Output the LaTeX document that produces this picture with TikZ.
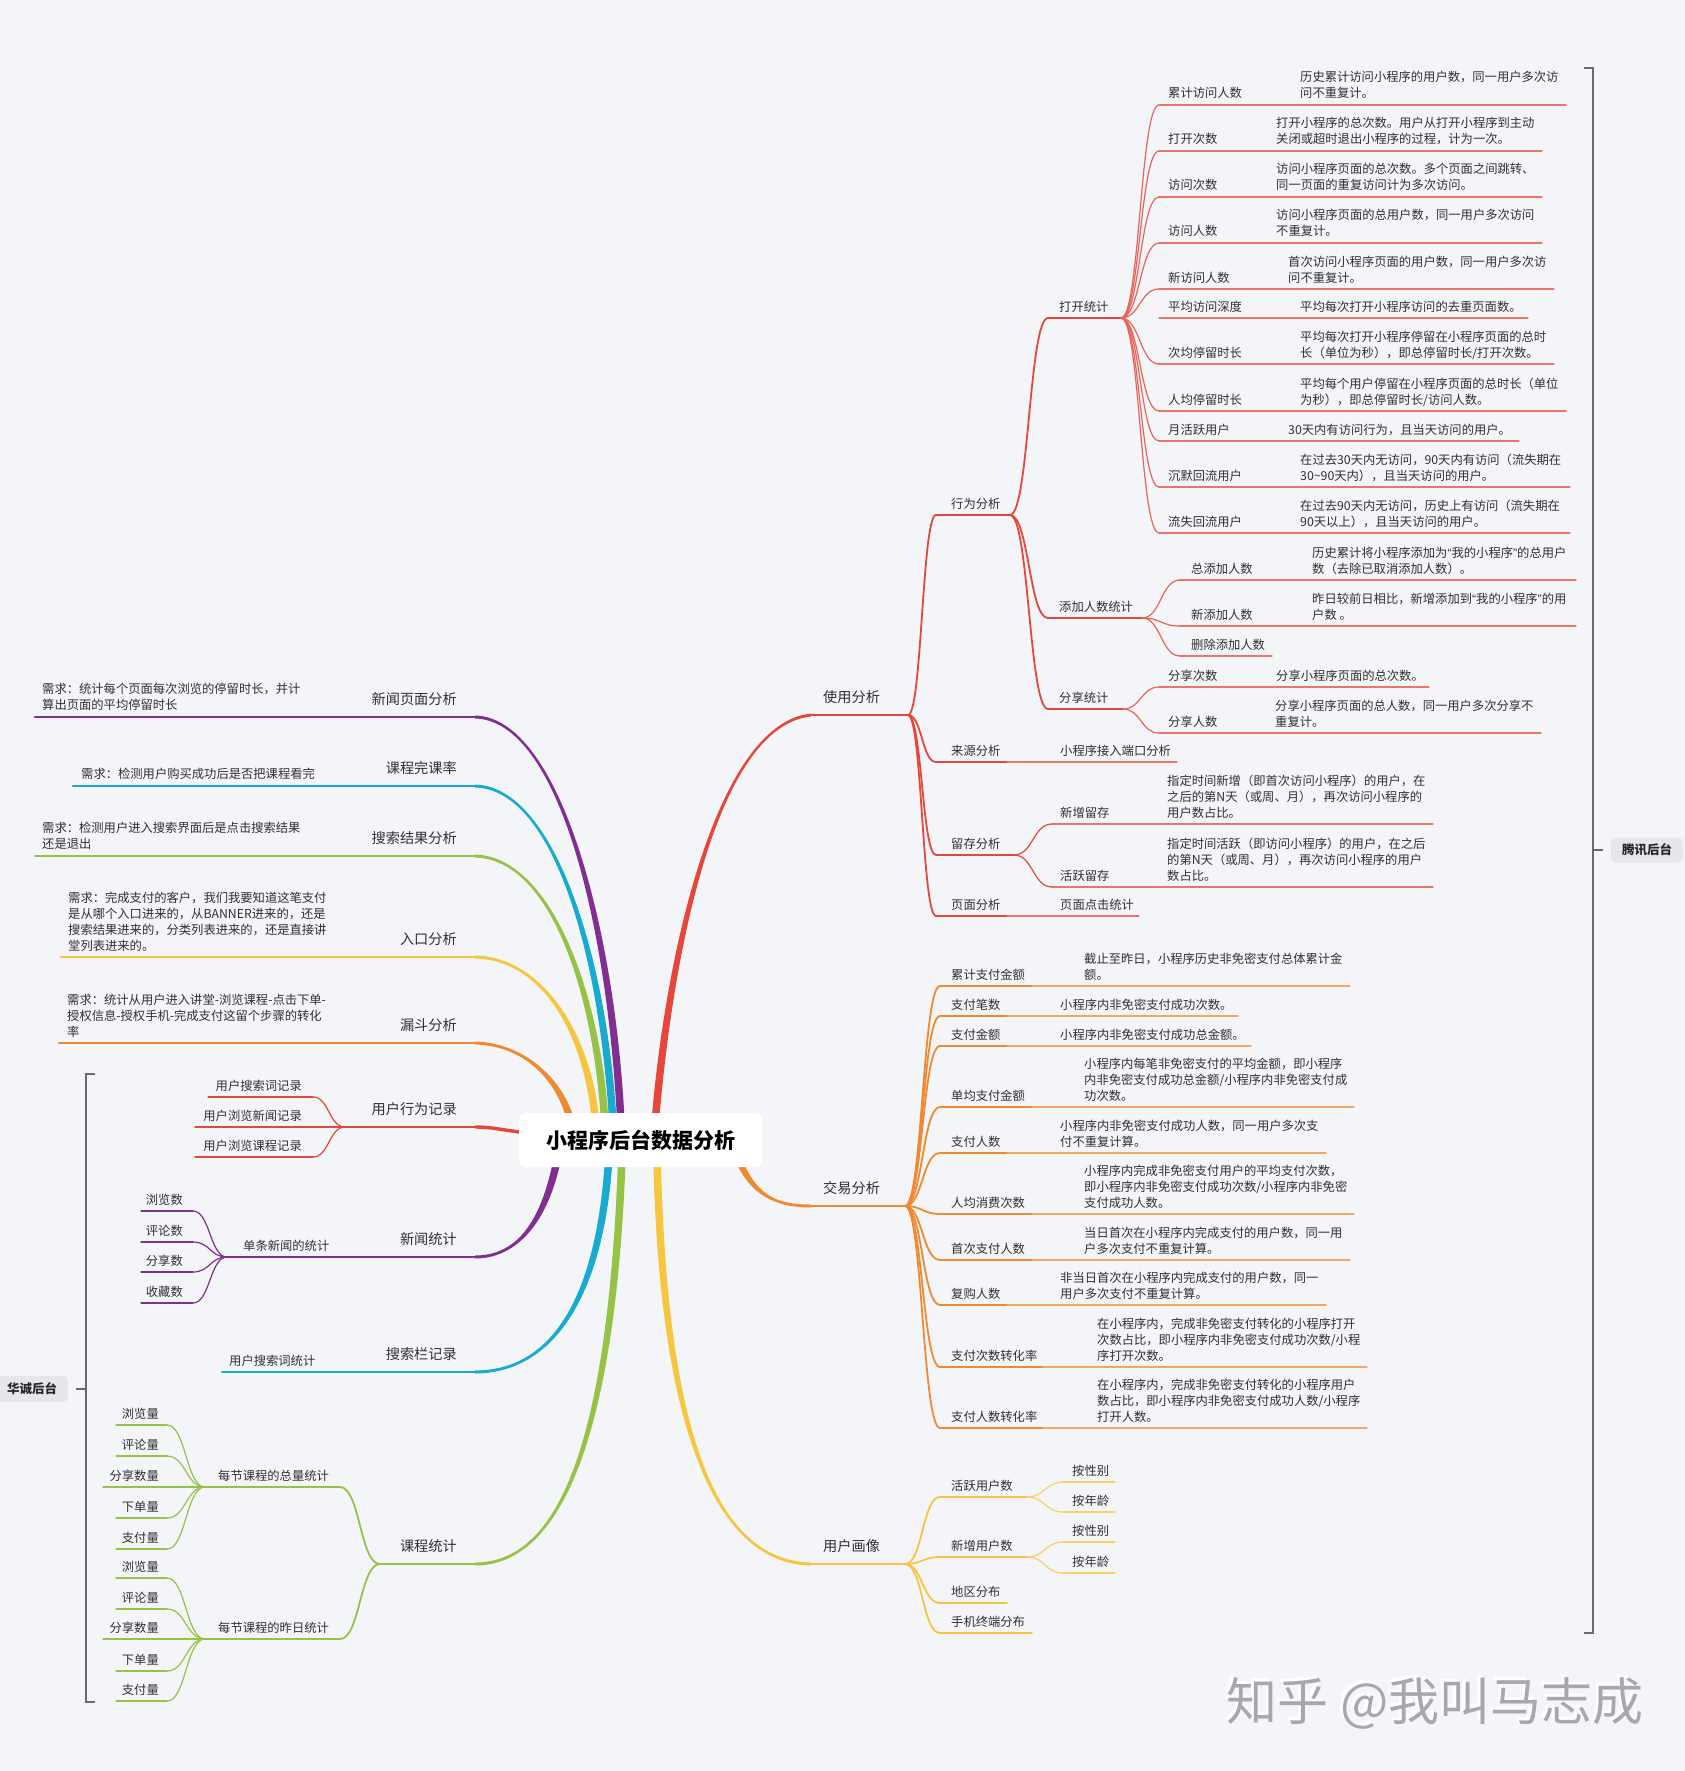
\documentclass[tikz,border=0pt]{standalone}
\usepackage{fontspec}
\setmainfont{Noto Sans CJK SC}
\newfontfamily\latq{Liberation Sans}
\usetikzlibrary{calc}
\definecolor{bg}{RGB}{244,245,249}
\definecolor{cR}{RGB}{231,70,58}
\definecolor{cO}{RGB}{240,138,48}
\definecolor{cY}{RGB}{246,198,64}
\definecolor{cG}{RGB}{150,194,72}
\definecolor{cC}{RGB}{24,170,208}
\definecolor{cP}{RGB}{128,46,146}
\definecolor{txt}{RGB}{48,48,52}
\definecolor{brk}{RGB}{105,105,110}
\definecolor{tagbg}{RGB}{230,231,235}
\definecolor{wmc}{RGB}{168,168,172}
\newcommand\tl[1]{\begin{tabular}[b]{@{}l@{}}#1\end{tabular}}
\newcommand\myoq{{\latq “}}
\newcommand\mycq{{\latq ”}}
\tikzset{
 lbl/.style={font=\fontsize{12.3}{16}\selectfont, text=txt, inner sep=0pt, anchor=base west},
 lblr/.style={lbl, anchor=base east},
 big/.style={font=\fontsize{14.2}{18}\selectfont, text=txt, inner sep=0pt, anchor=base west},
 bigr/.style={big, anchor=base east},
 l1/.style={line width=2.8pt, line cap=round},
 lL/.style={line width=2.2pt, line cap=round},
 l2/.style={line width=1.8pt, line cap=round},
 l3/.style={line width=1.2pt, line cap=round},
 tag/.style={fill=tagbg, rounded corners=5pt, font=\fontsize{12.5}{14}\selectfont\bfseries, text=black!85, inner sep=0pt},
}
\newcommand\conn[3]{\draw[#1] let \p1=(#2), \p2=(#3), \n1={(\x2-\x1)*0.5}, \n2={(\x1-\x2)*0.5} in (#2) .. controls +(\n1,0pt) and +(\n2,0pt) .. (#3);}
\newcommand\topic[7]{\coordinate (#1s) at (#4,#3); \coordinate (#1e) at (#5,#3); \draw[#2] (#1s) -- (#1e); \node[lbl] (#1) at (#6,#3-7) {#7};}
\newcommand\topicL[7]{\coordinate (#1s) at (#4,#3); \coordinate (#1e) at (#5,#3); \draw[#2] (#1s) -- (#1e); \node[lblr] (#1) at (#6,#3-7) {#7};}
\newcommand\topicRR[8]{\coordinate (#1s) at (#4,#3); \coordinate (#1m) at (#5,#3); \coordinate (#1e) at (#6,#3); \draw[l2,#2] (#1s) -- (#1m); \draw[l3,#2!75] (#1m) -- (#1e); \node[lbl] (#1) at (#7,#3-7) {#8};}
\newcommand\topicBL[5]{\coordinate (#1s) at (#4,#3); \coordinate (#1e) at (475,#3); \draw[lL,#2] (#1s) -- (#1e); \node[bigr] (#1) at (457,#3-13) {#5};}
\newcommand\desc[4]{\node[lbl] (#1d) at (#2,#3-7) {\tl{#4}};}
% #6 = end offset, #7 = its negative
\newcommand\mainb[7]{\fill[#1] ($(#2)+(3.8,0)$) .. controls ($(#3)+(3.8,0)$) and ($(#4)+(0,#6)$) .. ($(#5)+(0,#6)$) -- ($(#5)+(0,#7)$) .. controls ($(#4)+(0,#7)$) and ($(#3)+(-3.8,0)$) .. ($(#2)+(-3.8,0)$) -- cycle;}
\begin{document}
\begin{tikzpicture}[x=1pt,y=-1pt]
\fill[bg] (0,0) rectangle (1685,1771);
\useasboundingbox (0,0) rectangle (1685,1771);

% ================= RIGHT: 使用分析 =================
\coordinate (Us) at (811,715); \coordinate (Ue) at (908,715);
\draw[l1,cR] (Us) -- (Ue);
\node[big] (U) at (823,702) {使用分析};
\topic{XW}{l2,cR}{515}{936}{1010}{951}{行为分析}
\topic{LY}{l2,cR}{762}{936}{1007}{951}{来源分析}
\topic{LC}{l2,cR}{855}{936}{1014}{951}{留存分析}
\topic{YM}{l2,cR}{916}{936}{1007}{951}{页面分析}
\conn{l2,cR}{Ue}{XWs}
\conn{l2,cR}{Ue}{LYs}
\conn{l2,cR}{Ue}{LCs}
\conn{l2,cR}{Ue}{YMs}
\topic{LYa}{l3,cR!75}{762}{1007}{1177}{1060}{小程序接入端口分析}
\topic{YMa}{l3,cR!75}{916}{1007}{1139}{1060}{页面点击统计}
\topic{LCa}{l3,cR!75}{824}{1052}{1433}{1060}{新增留存}
\desc{LCa}{1167}{824}{指定时间新增（即首次访问小程序）的用户，在\\之后的第N天（或周、月），再次访问小程序的\\用户数占比。}
\topic{LCb}{l3,cR!75}{887}{1052}{1433}{1060}{活跃留存}
\desc{LCb}{1167}{887}{指定时间活跃（即访问小程序）的用户，在之后\\的第N天（或周、月），再次访问小程序的用户\\数占比。}
\conn{l3,cR}{LCe}{LCas}
\conn{l3,cR}{LCe}{LCbs}

\topic{DK}{l2,cR}{318}{1048}{1121}{1059}{打开统计}
\topic{TJ}{l2,cR}{618}{1048}{1142}{1059}{添加人数统计}
\topic{FX}{l2,cR}{709}{1048}{1123}{1059}{分享统计}
\conn{l2,cR}{XWe}{DKs}
\conn{l2,cR}{XWe}{TJs}
\conn{l2,cR}{XWe}{FXs}

\topic{D1}{l3,cR!75}{105}{1159}{1566}{1168}{累计访问人数}
\desc{D1}{1300}{105}{历史累计访问小程序的用户数，同一用户多次访\\问不重复计。}
\topic{D2}{l3,cR!75}{151}{1159}{1542}{1168}{打开次数}
\desc{D2}{1276}{151}{打开小程序的总次数。用户从打开小程序到主动\\关闭或超时退出小程序的过程，计为一次。}
\topic{D3}{l3,cR!75}{197}{1159}{1542}{1168}{访问次数}
\desc{D3}{1276}{197}{访问小程序页面的总次数。多个页面之间跳转、\\同一页面的重复访问计为多次访问。}
\topic{D4}{l3,cR!75}{243}{1159}{1542}{1168}{访问人数}
\desc{D4}{1276}{243}{访问小程序页面的总用户数，同一用户多次访问\\不重复计。}
\topic{D5}{l3,cR!75}{289}{1159}{1554}{1168}{新访问人数}
\desc{D5}{1288}{289}{首次访问小程序页面的用户数，同一用户多次访\\问不重复计。}
\topic{D6}{l3,cR!75}{318}{1159}{1528}{1168}{平均访问深度}
\desc{D6}{1300}{318}{平均每次打开小程序访问的去重页面数。}
\topic{D7}{l3,cR!75}{364}{1159}{1554}{1168}{次均停留时长}
\desc{D7}{1300}{364}{平均每次打开小程序停留在小程序页面的总时\\长（单位为秒），即总停留时长/打开次数。}
\topic{D8}{l3,cR!75}{411}{1159}{1566}{1168}{人均停留时长}
\desc{D8}{1300}{411}{平均每个用户停留在小程序页面的总时长（单位\\为秒），即总停留时长/访问人数。}
\topic{D9}{l3,cR!75}{441}{1159}{1519}{1168}{月活跃用户}
\desc{D9}{1288}{441}{30天内有访问行为，且当天访问的用户。}
\topic{D10}{l3,cR!75}{487}{1159}{1570}{1168}{沉默回流用户}
\desc{D10}{1300}{487}{在过去30天内无访问，90天内有访问（流失期在\\30\textasciitilde 90天内），且当天访问的用户。}
\topic{D11}{l3,cR!75}{533}{1159}{1570}{1168}{流失回流用户}
\desc{D11}{1300}{533}{在过去90天内无访问，历史上有访问（流失期在\\90天以上），且当天访问的用户。}
\foreach \k in {1,2,3,4,5,7,8,9,10,11}{\conn{l3,cR!85}{DKe}{D\k s}}

\topic{T1}{l3,cR!75}{580}{1180}{1576}{1191}{总添加人数}
\desc{T1}{1312}{580}{历史累计将小程序添加为\myoq 我的小程序\mycq 的总用户\\数（去除已取消添加人数）。}
\topic{T2}{l3,cR!75}{626}{1180}{1576}{1191}{新添加人数}
\desc{T2}{1312}{626}{昨日较前日相比，新增添加到\myoq 我的小程序\mycq 的用\\户数 。}
\topic{T3}{l3,cR!75}{656}{1180}{1272}{1191}{删除添加人数}
\conn{l3,cR!85}{TJe}{T1s}
\conn{l3,cR!85}{TJe}{T2s}
\conn{l3,cR!85}{TJe}{T3s}

\topic{F1}{l3,cR!75}{687}{1159}{1429}{1168}{分享次数}
\desc{F1}{1276}{687}{分享小程序页面的总次数。}
\topic{F2}{l3,cR!75}{733}{1159}{1541}{1168}{分享人数}
\desc{F2}{1275}{733}{分享小程序页面的总人数，同一用户多次分享不\\重复计。}
\conn{l3,cR!85}{FXe}{F1s}
\conn{l3,cR!85}{FXe}{F2s}

% ================= RIGHT: 交易分析 =================
\coordinate (JYs) at (811,1206); \coordinate (JYe) at (905,1206);
\draw[l1,cO] (JYs) -- (JYe);
\node[big] (JY) at (823,1193) {交易分析};
\topicRR{J1}{cO}{986}{940}{1032}{1350}{951}{累计支付金额}
\desc{J1}{1084}{986}{截止至昨日，小程序历史非免密支付总体累计金\\额。}
\topicRR{J2}{cO}{1016}{940}{1007}{1238}{951}{支付笔数}
\desc{J2}{1060}{1016}{小程序内非免密支付成功次数。}
\topicRR{J3}{cO}{1046}{940}{1007}{1251}{951}{支付金额}
\desc{J3}{1060}{1046}{小程序内非免密支付成功总金额。}
\topicRR{J4}{cO}{1107}{940}{1032}{1354}{951}{单均支付金额}
\desc{J4}{1084}{1107}{小程序内每笔非免密支付的平均金额，即小程序\\内非免密支付成功总金额/小程序内非免密支付成\\功次数。}
\topicRR{J5}{cO}{1153}{940}{1007}{1326}{951}{支付人数}
\desc{J5}{1060}{1153}{小程序内非免密支付成功人数，同一用户多次支\\付不重复计算。}
\topicRR{J6}{cO}{1214}{940}{1032}{1354}{951}{人均消费次数}
\desc{J6}{1084}{1214}{小程序内完成非免密支付用户的平均支付次数，\\即小程序内非免密支付成功次数/小程序内非免密\\支付成功人数。}
\topicRR{J7}{cO}{1260}{940}{1032}{1350}{951}{首次支付人数}
\desc{J7}{1084}{1260}{当日首次在小程序内完成支付的用户数，同一用\\户多次支付不重复计算。}
\topicRR{J8}{cO}{1305}{940}{1007}{1326}{951}{复购人数}
\desc{J8}{1060}{1305}{非当日首次在小程序内完成支付的用户数，同一\\用户多次支付不重复计算。}
\topicRR{J9}{cO}{1367}{940}{1043}{1367}{951}{支付次数转化率}
\desc{J9}{1097}{1367}{在小程序内，完成非免密支付转化的小程序打开\\次数占比，即小程序内非免密支付成功次数/小程\\序打开次数。}
\topicRR{J10}{cO}{1428}{940}{1043}{1367}{951}{支付人数转化率}
\desc{J10}{1097}{1428}{在小程序内，完成非免密支付转化的小程序用户\\数占比，即小程序内非免密支付成功人数/小程序\\打开人数。}
\foreach \k in {1,...,10}{\conn{l2,cO}{JYe}{J\k s}}

% ================= RIGHT: 用户画像 =================
\coordinate (HXs) at (811,1564); \coordinate (HXe) at (905,1564);
\draw[l1,cY] (HXs) -- (HXe);
\node[big] (HX) at (823,1551) {用户画像};
\topic{H1}{l2,cY}{1497}{940}{1027}{951}{活跃用户数}
\topic{H2}{l2,cY}{1557}{940}{1027}{951}{新增用户数}
\topic{H3}{l2,cY}{1603}{940}{1007}{951}{地区分布}
\topic{H4}{l2,cY}{1633}{940}{1032}{951}{手机终端分布}
\foreach \k in {1,...,4}{\conn{l2,cY}{HXe}{H\k s}}
\topic{H1a}{l3,cY!80}{1482}{1063}{1115}{1072}{按性别}
\topic{H1b}{l3,cY!80}{1512}{1063}{1115}{1072}{按年龄}
\topic{H2a}{l3,cY!80}{1542}{1063}{1115}{1072}{按性别}
\topic{H2b}{l3,cY!80}{1573}{1063}{1115}{1072}{按年龄}
\conn{l3,cY!80}{H1e}{H1as}
\conn{l3,cY!80}{H1e}{H1bs}
\conn{l3,cY!80}{H2e}{H2as}
\conn{l3,cY!80}{H2e}{H2bs}

% ================= LEFT =================
\topicBL{NP}{cP}{717}{35}{新闻页面分析}
\node[lbl] (NPn) at (42,709) {\tl{需求：统计每个页面每次浏览的停留时长，并计\\算出页面的平均停留时长}};
\topicBL{KW}{cC}{786}{73}{课程完课率}
\node[lbl] (KWn) at (81,778) {需求：检测用户购买成功后是否把课程看完};
\topicBL{SR}{cG}{856}{35}{搜索结果分析}
\node[lbl] (SRn) at (42,848) {\tl{需求：检测用户进入搜索界面后是点击搜索结果\\还是退出}};
\topicBL{RK}{cY}{957}{61}{入口分析}
\node[lbl] (RKn) at (68,950) {\tl{需求：完成支付的客户，我们我要知道这笔支付\\是从哪个入口进来的，从BANNER进来的，还是\\搜索结果进来的，分类列表进来的，还是直接讲\\堂列表进来的。}};
\topicBL{LD}{cO}{1043}{59}{漏斗分析}
\node[lbl] (LDn) at (67,1036) {\tl{需求：统计从用户进入讲堂-浏览课程-点击下单-\\授权信息-授权手机-完成支付这留个步骤的转化\\率}};

\topicBL{YH}{cR}{1127}{345}{用户行为记录}
\topicL{YHa}{l3,cR}{1097}{208}{313}{302}{用户搜索词记录}
\topicL{YHb}{l3,cR}{1127}{195}{345}{302}{用户浏览新闻记录}
\topicL{YHc}{l3,cR}{1157}{195}{313}{302}{用户浏览课程记录}
\conn{l3,cR}{YHs}{YHae}
\conn{l3,cR}{YHs}{YHce}

\topicBL{XT}{cP}{1257}{340}{新闻统计}
\topic{DT}{l2,cP}{1257}{227}{340}{243}{单条新闻的统计}
\topicL{DT1}{l3,cP}{1211}{141}{193}{183}{浏览数}
\topicL{DT2}{l3,cP}{1242}{141}{193}{183}{评论数}
\topicL{DT3}{l3,cP}{1272}{141}{193}{183}{分享数}
\topicL{DT4}{l3,cP}{1303}{141}{193}{183}{收藏数}
\foreach \k in {1,...,4}{\conn{l3,cP}{DTs}{DT\k e}}

\topicBL{SL}{cC}{1372}{340}{搜索栏记录}
\topic{SLa}{l2,cC}{1372}{222}{340}{229}{用户搜索词统计}

\topicBL{KT}{cG}{1564}{380}{课程统计}
\topic{ZL}{l2,cG}{1487}{205}{340}{218}{每节课程的总量统计}
\topic{ZR}{l2,cG}{1639}{205}{340}{218}{每节课程的昨日统计}
\conn{l2,cG}{KTs}{ZLe}
\conn{l2,cG}{KTs}{ZRe}
\topicL{ZL1}{l3,cG}{1425}{116}{167}{159}{浏览量}
\topicL{ZL2}{l3,cG}{1456}{116}{167}{159}{评论量}
\topicL{ZL3}{l3,cG}{1487}{103}{205}{159}{分享数量}
\topicL{ZL4}{l3,cG}{1518}{116}{167}{159}{下单量}
\topicL{ZL5}{l3,cG}{1549}{116}{167}{159}{支付量}
\topicL{ZR1}{l3,cG}{1578}{116}{167}{159}{浏览量}
\topicL{ZR2}{l3,cG}{1609}{116}{167}{159}{评论量}
\topicL{ZR3}{l3,cG}{1639}{103}{205}{159}{分享数量}
\topicL{ZR4}{l3,cG}{1671}{116}{167}{159}{下单量}
\topicL{ZR5}{l3,cG}{1701}{116}{167}{159}{支付量}
\foreach \k in {1,2,4,5}{\conn{l3,cG}{ZLs}{ZL\k e}\conn{l3,cG}{ZRs}{ZR\k e}}

% ================= MAIN BRANCHES =================
\coordinate (rU) at (655,1125);
\coordinate (rJY) at (735,1150);
\coordinate (rHX) at (657,1155);
\coordinate (rNP) at (621,1125);
\coordinate (rKW) at (613,1125);
\coordinate (rSR) at (605,1125);
\coordinate (rRK) at (596,1125);
\coordinate (rLD) at (572,1125);
\coordinate (rYH) at (530,1133);
\coordinate (rXT) at (558,1155);
\coordinate (rSL) at (609,1155);
\coordinate (rKT) at (622,1155);
\mainb{cR}{rU}{668,960}{715,725}{Us}{1.5}{-1.5}
\mainb{cO}{rJY}{750,1195}{775,1206}{JYs}{-1.5}{1.5}
\mainb{cY}{rHX}{662,1400}{705,1562}{HXs}{-1.5}{1.5}
\mainb{cP}{rNP}{612,930}{560,719}{NPe}{-1.5}{1.5}
\mainb{cC}{rKW}{604,960}{555,788}{KWe}{-1.5}{1.5}
\mainb{cG}{rSR}{597,990}{550,858}{SRe}{-1.5}{1.5}
\mainb{cY}{rRK}{588,1030}{540,958}{RKe}{-1.5}{1.5}
\mainb{cO}{rLD}{560,1075}{520,1044}{LDe}{-1.5}{1.5}
\draw[cR,line width=3.4pt] (rYH) .. controls (505,1131) and (495,1127) .. (YHe);
\mainb{cP}{rXT}{545,1225}{515,1257}{XTe}{1.5}{-1.5}
\mainb{cC}{rSL}{600,1310}{545,1372}{SLe}{1.5}{-1.5}
\mainb{cG}{rKT}{612,1440}{560,1564}{KTe}{1.5}{-1.5}

\node[fill=white, rounded corners=7pt, minimum width=243pt, minimum height=54pt, inner sep=0pt, font=\fontsize{21}{24}\selectfont\bfseries, text=black] (root) at (640.5,1140) {小程序后台数据分析};

% ================= BRACKETS =================
\coordinate (BLt) at (95,1074); \coordinate (BLtc) at (86,1074);
\coordinate (BLbc) at (86,1702); \coordinate (BLb) at (95,1702);
\coordinate (BLm) at (86,1389); \coordinate (BLmt) at (76,1389);
\draw[brk,line width=2pt] (BLt) -- (BLtc) -- (BLbc) -- (BLb);
\draw[brk,line width=1.4pt] (BLm) -- (BLmt);
\node[tag, minimum width=72pt, minimum height=26pt] (HC) at (32,1389) {华诚后台};

\coordinate (BRt) at (1584,68); \coordinate (BRtc) at (1593,68);
\coordinate (BRbc) at (1593,1633); \coordinate (BRb) at (1584,1633);
\coordinate (BRm) at (1593,850); \coordinate (BRmt) at (1603,850);
\draw[brk,line width=2pt] (BRt) -- (BRtc) -- (BRbc) -- (BRb);
\draw[brk,line width=1.4pt] (BRm) -- (BRmt);
\node[tag, minimum width=72pt, minimum height=25pt] (TX) at (1647,850) {腾讯后台};

% ================= WATERMARK =================
\node[font=\fontsize{51}{56}\selectfont, text=white, inner sep=0pt] (wm0) at (1432,1700) {知乎 @我叫马志成};
\node[font=\fontsize{51}{56}\selectfont, text=wmc, inner sep=0pt] (wm) at (1435,1703) {知乎 @我叫马志成};
\end{tikzpicture}
\end{document}
